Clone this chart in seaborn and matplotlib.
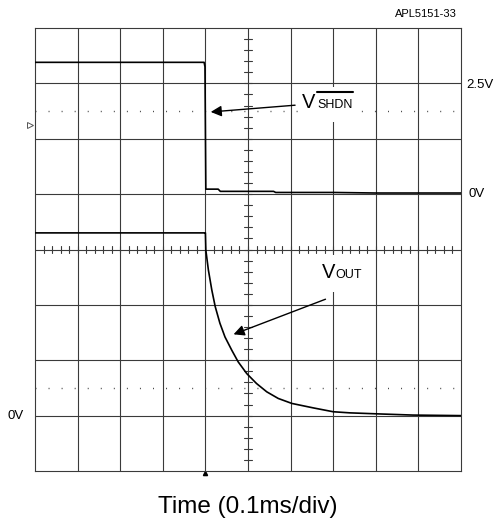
import numpy as np
import pandas as pd
import matplotlib
matplotlib.use("Agg")
import matplotlib.pyplot as plt
from matplotlib.patches import Rectangle
import seaborn as sns

# time in ms (0.1 ms/div), vertical position in scope divisions (0..8)
shdn_t = [0.0, 0.397, 0.399, 0.401, 0.43, 0.435, 0.56, 0.565, 0.70, 0.80, 1.0]
shdn_v = [7.38, 7.38, 7.30, 5.09, 5.09, 5.05, 5.05, 5.03, 5.03, 5.02, 5.02]

vout_t = [0.0, 0.398, 0.400, 0.401, 0.407, 0.415, 0.423, 0.434, 0.446, 0.462,
          0.477, 0.497, 0.520, 0.544, 0.571, 0.603, 0.653, 0.700, 0.739,
          0.810, 0.887, 1.0]
vout_v = [4.30, 4.30, 4.30, 3.99, 3.63, 3.27, 2.97, 2.67, 2.42, 2.18,
          1.97, 1.76, 1.58, 1.43, 1.31, 1.22, 1.14, 1.07, 1.05,
          1.03, 1.01, 1.00]

sns.set_style("white")
plt.rcParams["font.family"] = ["Liberation Sans", "DejaVu Sans"]
plt.rcParams["text.color"] = "black"

fig = plt.figure(figsize=(4.98, 5.27), dpi=100)
ax = fig.add_axes([35 / 498, 1 - 471 / 527, 426 / 498, 443 / 527])

# graticule
for x in np.arange(0.1, 1.0, 0.1):
    ax.axvline(x, color="#3a3a3a", lw=0.8, zorder=1)
for y in range(1, 8):
    ax.axhline(y, color="#3a3a3a", lw=0.8, zorder=1)
for y in (6.5, 1.5):
    ax.axhline(y, color="#444444", lw=1.0, ls=(0, (0.7, 8.7)), zorder=1)

# minor ticks on the centre cross
for y in np.arange(0.2, 8.0, 0.2):
    ax.plot([0.5 - 0.0094, 0.5 + 0.0094], [y, y], color="#3a3a3a", lw=0.8, zorder=1)
for x in np.arange(0.02, 1.0, 0.02):
    ax.plot([x, x], [4 - 0.072, 4 + 0.072], color="#3a3a3a", lw=0.8, zorder=1)

# white label areas
ax.add_patch(Rectangle((0.617, 6.30), 0.137, 0.63, fc="white", ec="none", zorder=2))
ax.add_patch(Rectangle((0.664, 3.23), 0.113, 0.67, fc="white", ec="none", zorder=2))

df1 = pd.DataFrame({"t": shdn_t, "v": shdn_v})
df2 = pd.DataFrame({"t": vout_t, "v": vout_v})
sns.lineplot(data=df1, x="t", y="v", ax=ax, color="black", lw=1.2, zorder=3)
sns.lineplot(data=df2, x="t", y="v", ax=ax, color="black", lw=1.2, zorder=3)

ax.set_xlim(0, 1)
ax.set_ylim(0, 8)
ax.set_xticks([])
ax.set_yticks([])
ax.set_xlabel("")
ax.set_ylabel("")
for s in ax.spines.values():
    s.set_color("#3a3a3a")
    s.set_linewidth(0.8)

# arrows and labels
ax.annotate("", xy=(0.406, 6.48), xytext=(0.617, 6.61),
            arrowprops=dict(arrowstyle="-|>", color="black", lw=1.0, mutation_scale=16), zorder=4)
ax.text(0.627, 6.547, "V", fontsize=14.5, va="baseline", ha="left", zorder=4)
ax.text(0.662, 6.547, "SHDN", fontsize=9, va="baseline", ha="left", zorder=4)
ax.plot([0.662, 0.746], [6.836, 6.836], color="black", lw=1.5, zorder=4)

ax.annotate("", xy=(0.460, 2.45), xytext=(0.688, 3.12),
            arrowprops=dict(arrowstyle="-|>", color="black", lw=1.0, mutation_scale=16), zorder=4)
ax.text(0.674, 3.478, "V", fontsize=14.5, va="baseline", ha="left", zorder=4)
ax.text(0.704, 3.478, "OUT", fontsize=9, va="baseline", ha="left", zorder=4)

# channel markers
ax.plot([-0.012], [6.25], marker=">", ms=5, mfc="white", mec="#555555", mew=0.7, clip_on=False)
ax.plot([0.399], [-0.04], marker="^", ms=3, color="black", clip_on=False)

fig.text(466 / 498, 1 - 85 / 527, "2.5V", fontsize=9.5, va="center", ha="left")
fig.text(468 / 498, 1 - 194 / 527, "0V", fontsize=9.5, va="center", ha="left")
fig.text(8 / 498, 1 - 416 / 527, "0V", fontsize=9.5, va="center", ha="left")
fig.text(457 / 498, 1 - 14 / 527, "APL5151-33", fontsize=8, va="center", ha="right")
fig.text(248 / 498, 1 - 507 / 527, "Time (0.1ms/div)", fontsize=17.5, va="center", ha="center")

fig.savefig("out.png", dpi=100)
